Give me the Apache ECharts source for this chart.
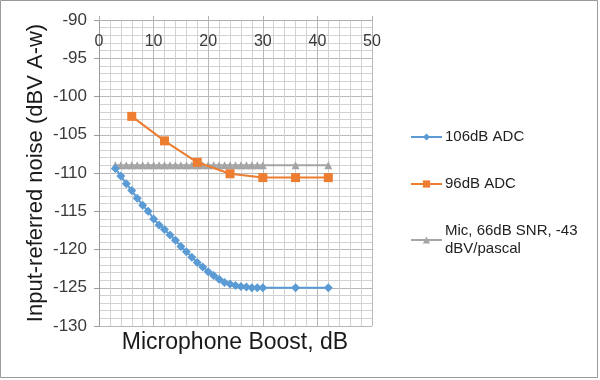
<!DOCTYPE html>
<html>
<head>
<meta charset="utf-8">
<script src="https://cdn.jsdelivr.net/npm/echarts@6/dist/echarts.min.js"></script>
<style>html,body{margin:0;padding:0;background:#fff}#c{width:600px;height:380px}</style>
</head>
<body>
<div id="c"></div>
<script>
const xTicks = [0, 10, 20, 30, 40, 50];
const yTicks = [-130, -125, -120, -115, -110, -105, -100, -95, -90];
const adc106X = [3,4,5,6,7,8,9,10,11,12,13,14,15,16,17,18,19,20,21,22,23,24,25,26,27,28,29,30,36,42];
const adc106Y = [-109.4,-110.4,-111.4,-112.3,-113.3,-114.2,-115.0,-116.0,-116.8,-117.4,-118.1,-118.8,-119.6,-120.3,-121.0,-121.7,-122.3,-122.9,-123.4,-123.9,-124.3,-124.5,-124.7,-124.85,-124.9,-125.0,-125.0,-125.0,-125.0,-125.0];
const adc96X = [6,12,18,24,30,36,42];
const adc96Y = [-102.6,-105.8,-108.6,-110.1,-110.6,-110.6,-110.6];
const micX = [3,4,5,6,7,8,9,10,11,12,13,14,15,16,17,18,19,20,21,22,23,24,25,26,27,28,29,30,36,42];
const micY = [-109,-109,-109,-109,-109,-109,-109,-109,-109,-109,-109,-109,-109,-109,-109,-109,-109,-109,-109,-109,-109,-109,-109,-109,-109,-109,-109,-109,-109,-109];
const names = ['106dB ADC', '96dB ADC', 'Mic, 66dB SNR, -43 dBV/pascal'];
const xTitle = 'Microphone Boost, dB';
const yTitle = 'Input-referred noise (dBV A-w)';

const zip = (xs, ys) => xs.map((x, i) => [x, ys[i]]);
const font = 'Liberation Sans, Arial, sans-serif';
const chart = echarts.init(document.getElementById('c'), null, {renderer: 'canvas'});
chart.setOption({
  animation: false,
  backgroundColor: '#fff',
  legend: {
    orient: 'vertical', left: 405, top: 123, itemWidth: 31, itemHeight: 9, itemGap: 29,
    textStyle: {fontFamily: font, fontSize: 15, color: '#222', lineHeight: 18, padding: [0, 0, 0, -2]},
    formatter: n => n.replace('-43 ', '-43\n'),
    data: names
  },
  grid: {left: 99, right: 228, top: 20, bottom: 54},
  xAxis: {
    type: 'value', position: 'top', min: xTicks[0], max: xTicks[xTicks.length - 1], interval: 10,
    axisLine: {show: true, onZero: false, lineStyle: {color: '#b0b0b0'}},
    axisTick: {show: true, length: 4, lineStyle: {color: '#b0b0b0'}},
    axisLabel: {inside: true, margin: 14, fontFamily: font, fontSize: 16, color: '#3a3a3a',
      formatter: v => xTicks.includes(v) ? String(v) : ''},
    splitLine: {show: true, lineStyle: {color: '#b8b8b8', width: 1}},
    minorTick: {show: false, splitNumber: 5},
    minorSplitLine: {show: true, lineStyle: {color: '#d2d2d2', width: 1}}
  },
  yAxis: {
    type: 'value', min: yTicks[0], max: yTicks[yTicks.length - 1], interval: 5,
    name: yTitle, nameLocation: 'middle', nameGap: 52, nameRotate: 90,
    nameTextStyle: {fontFamily: font, fontSize: 22, color: '#1a1a1a'},
    axisLine: {show: true, onZero: false, lineStyle: {color: '#9a9a9a'}},
    axisTick: {show: true, length: 5, lineStyle: {color: '#9a9a9a'}},
    axisLabel: {margin: 12, fontFamily: font, fontSize: 17, color: '#3a3a3a'},
    splitLine: {show: true, lineStyle: {color: '#b8b8b8', width: 1}},
    minorTick: {show: false, splitNumber: 5},
    minorSplitLine: {show: true, lineStyle: {color: '#d2d2d2', width: 1}}
  },
  series: [
    {name: names[2], type: 'line', data: zip(micX, micY), symbol: 'triangle', symbolSize: 8,
      itemStyle: {color: '#a5a5a5'}, lineStyle: {color: '#a5a5a5', width: 2}, z: 2},
    {name: names[1], type: 'line', data: zip(adc96X, adc96Y), symbol: 'rect', symbolSize: 9,
      itemStyle: {color: '#ed7d31'}, lineStyle: {color: '#ed7d31', width: 2}, z: 3},
    {name: names[0], type: 'line', data: zip(adc106X, adc106Y), symbol: 'diamond', symbolSize: 9,
      itemStyle: {color: '#5b9bd5'}, lineStyle: {color: '#5b9bd5', width: 2}, z: 4}
  ],
  graphic: [
    {type: 'rect', shape: {x: 0.5, y: 0.5, width: 597, height: 377},
      style: {fill: 'none', stroke: '#9a9a9a', lineWidth: 1}, silent: true},
    {type: 'text', x: 235, y: 343, silent: true,
      style: {text: xTitle, fontFamily: font, fontSize: 23, fill: '#1a1a1a', align: 'center', verticalAlign: 'middle'}}
  ]
});
</script>
</body>
</html>
